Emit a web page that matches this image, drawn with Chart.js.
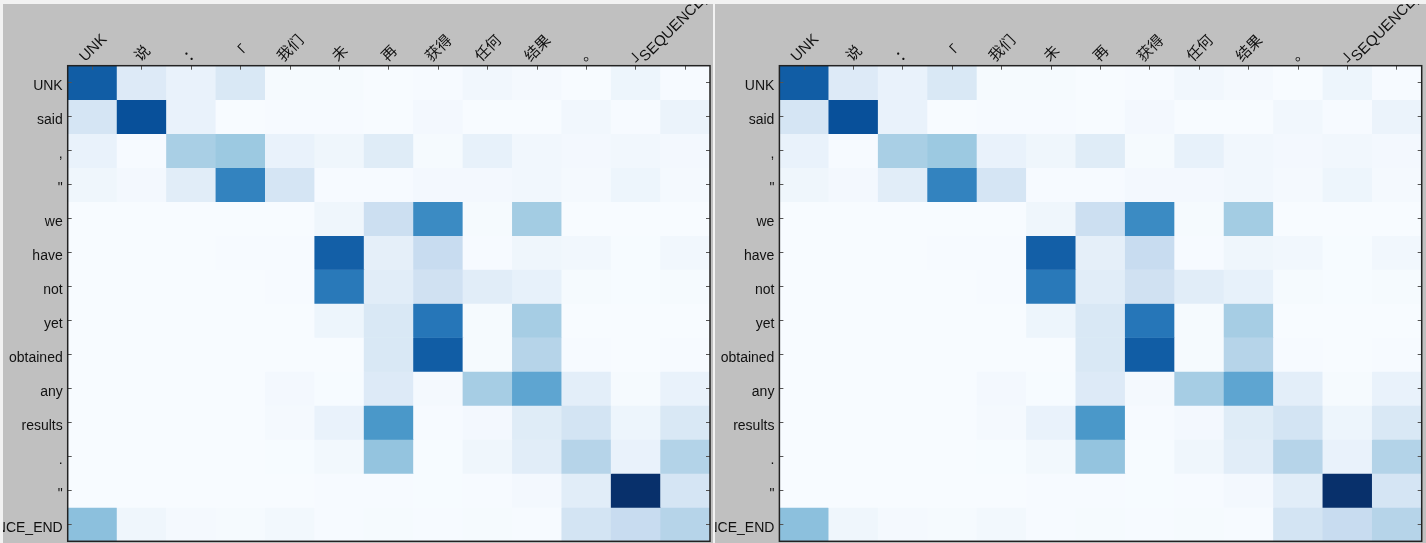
<!DOCTYPE html>
<html>
<head>
<meta charset="utf-8">
<title>Attention</title>
<script src="https://cdn.jsdelivr.net/npm/chart.js@4/dist/chart.umd.min.js"></script>
<style>
    html, body { margin: 0; padding: 0; width: 1426px; height: 543px; background: #f2f2f2; overflow: hidden; }
    canvas { position: absolute; top: 4px; background: #c0c0c0; }
    #left { left: 3px; }
    #right { left: 715px; }
</style>
</head>
<body>
<canvas id="left" width="710" height="539"></canvas>
<canvas id="right" width="711" height="539"></canvas>
<script>
const sourceWords = ['UNK', '说', '：', '「', '我们', '未', '再', '获得', '任何', '结果', '。', '」', 'SEQUENCE_END'];
const targetWords = ['UNK', 'said', ',', '"', 'we', 'have', 'not', 'yet', 'obtained', 'any', 'results', '.', '"', 'SEQUENCE_END'];

const rowUnk      = [0.83, 0.13, 0.07, 0.15, 0.01, 0.01, 0, 0.005, 0.03, 0.015, 0, 0.05, 0.005];
const rowSaid     = [0.17, 0.88, 0.07, 0, 0.005, 0.005, 0, 0.02, 0, 0, 0.03, 0.005, 0.06];
const rowComma    = [0.07, 0.005, 0.34, 0.38, 0.07, 0.04, 0.12, 0.01, 0.08, 0.03, 0.02, 0.03, 0.02];
const rowOpen     = [0.04, 0.02, 0.11, 0.68, 0.17, 0.005, 0.005, 0.02, 0.02, 0.03, 0.015, 0.05, 0.015];
const rowWe       = [0, 0, 0, 0, 0, 0.04, 0.22, 0.65, 0.01, 0.36, 0, 0, 0];
const rowHave     = [0, 0, 0, 0.005, 0.005, 0.82, 0.09, 0.24, 0.005, 0.04, 0.03, 0.003, 0.03];
const rowNot      = [0, 0, 0, 0, 0.005, 0.72, 0.11, 0.2, 0.11, 0.08, 0.01, 0.003, 0.008];
const rowYet      = [0, 0, 0, 0, 0, 0.05, 0.15, 0.73, 0.01, 0.35, 0, 0, 0];
const rowObtained = [0, 0, 0, 0, 0, 0.002, 0.15, 0.83, 0.01, 0.3, 0.005, 0, 0.005];
const rowAny      = [0, 0, 0, 0, 0.02, 0.003, 0.13, 0.015, 0.35, 0.54, 0.1, 0.01, 0.07];
const rowResults  = [0, 0, 0, 0, 0.015, 0.07, 0.6, 0.005, 0.02, 0.12, 0.18, 0.05, 0.15];
const rowPeriod   = [0, 0, 0, 0, 0.003, 0.025, 0.4, 0.003, 0.04, 0.11, 0.3, 0.07, 0.31];
const rowClose    = [0, 0, 0, 0, 0, 0.005, 0.005, 0.003, 0.005, 0.02, 0.11, 1, 0.17];
const rowEnd      = [0.42, 0.04, 0.015, 0.01, 0.025, 0.005, 0.008, 0.005, 0.01, 0.005, 0.18, 0.24, 0.3];

const attention = [rowUnk, rowSaid, rowComma, rowOpen, rowWe, rowHave, rowNot, rowYet,
    rowObtained, rowAny, rowResults, rowPeriod, rowClose, rowEnd];

// matplotlib "Blues"
const blues = [[247, 251, 255], [222, 235, 247], [198, 219, 239], [158, 202, 225], [107, 174, 214],
    [66, 146, 198], [33, 113, 181], [8, 81, 156], [8, 48, 107]];

function bluesColor(v) {
    const pos = Math.min(v, 1) * (blues.length - 1);
    const i = Math.min(Math.floor(pos), blues.length - 2);
    const t = pos - i;
    const c = blues[i].map((a, k) => Math.round(a + (blues[i + 1][k] - a) * t));
    return `rgb(${c[0]},${c[1]},${c[2]})`;
}

const FONT = '"Liberation Sans", "Noto Sans CJK SC", sans-serif';
const INK = '#111111';

// background of the cell area, frame, and the slanted column labels centred over their ticks
const matrixDecor = {
    id: 'matrixDecor',
    beforeDatasetsDraw(chart) {
        const {ctx, chartArea: a} = chart;
        ctx.save();
        ctx.fillStyle = '#f7fbff';
        ctx.fillRect(a.left, a.top, a.right - a.left, a.bottom - a.top);
        ctx.restore();
    },
    afterDraw(chart) {
        const {ctx, chartArea: a} = chart;
        const scale = chart.scales.x;
        ctx.save();
        ctx.strokeStyle = '#222222';
        ctx.lineWidth = 1.5;
        ctx.strokeRect(a.left, a.top, a.right - a.left, a.bottom - a.top);

        ctx.fillStyle = INK;
        ctx.font = '15px ' + FONT;
        ctx.textAlign = 'center';
        ctx.textBaseline = 'middle';
        sourceWords.forEach((word, i) => {
            const boxHeight = (ctx.measureText(word).width + 15) * Math.SQRT1_2;
            ctx.save();
            ctx.translate(scale.getPixelForTick(i) + 1, a.top - 1 - boxHeight / 2);
            ctx.rotate(-Math.PI / 4);
            ctx.fillText(word, 0, 0);
            ctx.restore();
        });
        ctx.restore();
    }
};

function rowTicks(scale) {
    scale.ticks = targetWords.map((w, i) => ({value: i + 0.5}));
}

function buildChart(id, axisLeft, axisTop, axisRight, axisBottom) {
    const tickGrid = {z: 1, drawOnChartArea: false, tickLength: -4, color: '#555555', lineWidth: 1};
    return new Chart(document.getElementById(id), {
        type: 'bar',
        data: {
            labels: sourceWords,
            datasets: attention.map((row, r) => ({
                label: targetWords[r],
                data: row.map(() => 1),
                backgroundColor: row.map(bluesColor),
                borderWidth: 0,
                barPercentage: 1,
                categoryPercentage: 1
            }))
        },
        options: {
            responsive: false,
            animation: false,
            layout: {autoPadding: false, padding: {left: 0, top: 0, right: axisRight, bottom: axisBottom}},
            plugins: {legend: {display: false}, tooltip: {enabled: false}},
            scales: {
                x: {
                    position: 'top',
                    stacked: true,
                    grid: {...tickGrid, offset: false},
                    border: {display: false},
                    ticks: {display: false, autoSkip: false},
                    afterFit: s => { s.height = axisTop; }
                },
                y: {
                    stacked: true,
                    reverse: true,
                    min: 0,
                    max: targetWords.length,
                    grid: tickGrid,
                    border: {display: false},
                    afterBuildTicks: rowTicks,
                    // row labels sit well inside the plot height, no extra margin for them
                    afterFit: s => {
                        s.width = axisLeft;
                        s.paddingTop = 0;
                        s.paddingBottom = 0;
                    },
                    ticks: {
                        autoSkip: false,
                        color: INK,
                        padding: 9,
                        labelOffset: 3.7,
                        font: {family: FONT, size: 14},
                        callback: (v, i) => targetWords[i]
                    }
                },
                yRight: {
                    position: 'right',
                    reverse: true,
                    min: 0,
                    max: targetWords.length,
                    grid: tickGrid,
                    border: {display: false},
                    afterBuildTicks: rowTicks,
                    afterFit: s => { s.width = 0; },
                    ticks: {display: false, autoSkip: false}
                }
            }
        },
        plugins: [matrixDecor]
    });
}

buildChart('left', 64.7, 61.7, 3, 1.7);
buildChart('right', 64.4, 61.7, 4.3, 1.7);
</script>
</body>
</html>
